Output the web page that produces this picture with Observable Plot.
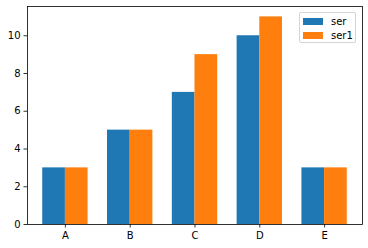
<!DOCTYPE html>
<html>
<head>
<meta charset="utf-8">
<script src="https://cdn.jsdelivr.net/npm/d3@7"></script>
<script src="https://cdn.jsdelivr.net/npm/@observablehq/plot@0.6"></script>
<style>
  body { margin: 0; background: #fff; font-family: "DejaVu Sans", sans-serif; }
  #wrap { position: relative; width: 368px; height: 248px; }
  #legend { position: absolute; left: 299px; top: 12px; width: 57px; height: 31px;
    border: 1px solid #d5d5d5; border-radius: 2px; background: rgba(255,255,255,0.8);
    font-size: 10px; color: #000; box-sizing: border-box; }
  .item { position: absolute; left: 3px; display: flex; align-items: center; height: 10px; }
  .sw { width: 20px; height: 7px; margin-right: 8px; }
</style>
</head>
<body>
<div id="wrap"></div>
<script>
const categories = ["A", "B", "C", "D", "E"];
const seriesNames = ["ser", "ser1"];
const ser = [3, 5, 7, 10, 3];
const ser1 = [3, 5, 9, 11, 3];
const colors = ["#1f77b4", "#ff7f0e"];
const yTicks = [0, 2, 4, 6, 8, 10];

const barW = 0.35;
const rows = [];
categories.forEach((c, i) => {
  rows.push({cat: c, series: "ser", value: ser[i], x1: i - barW, x2: i});
  rows.push({cat: c, series: "ser1", value: ser1[i], x1: i, x2: i + barW});
});
const n = categories.length;
const span = (n - 1) + 2 * barW;
const xDomain = [-barW - 0.05 * span, (n - 1) + barW + 0.05 * span];
const yMax = d3.max([...ser, ...ser1]) * 1.05;

const chart = Plot.plot({
  width: 368,
  height: 248,
  marginLeft: 27,
  marginRight: 6,
  marginTop: 6,
  marginBottom: 24,
  style: {fontFamily: "DejaVu Sans", fontSize: "10px", color: "#000", background: "#fff"},
  x: {domain: xDomain, axis: null},
  y: {domain: [0, yMax], axis: null},
  color: {domain: seriesNames, range: colors},
  marks: [
    Plot.rectY(rows, {x1: "x1", x2: "x2", y: "value", fill: "series", inset: 0}),
    Plot.axisX({ticks: d3.range(n), tickFormat: i => categories[i], tickSize: 3.5, tickPadding: 3.5, stroke: "#000", strokeWidth: 0.8, fill: "#000", label: null}),
    Plot.axisY({ticks: yTicks, tickSize: 3.5, tickPadding: 3.5, stroke: "#000", strokeWidth: 0.8, fill: "#000", label: null}),
    Plot.frame({stroke: "#000", strokeWidth: 0.8})
  ]
});
const wrap = document.getElementById("wrap");
wrap.appendChild(chart);

const legend = document.createElement("div");
legend.id = "legend";
seriesNames.forEach((s, k) => {
  const it = document.createElement("div");
  it.className = "item";
  it.style.top = (3 + k * 14.5) + "px";
  const sw = document.createElement("div");
  sw.className = "sw";
  sw.style.background = colors[k];
  const t = document.createElement("span");
  t.textContent = s;
  it.appendChild(sw);
  it.appendChild(t);
  legend.appendChild(it);
});
wrap.appendChild(legend);
</script>
</body>
</html>
